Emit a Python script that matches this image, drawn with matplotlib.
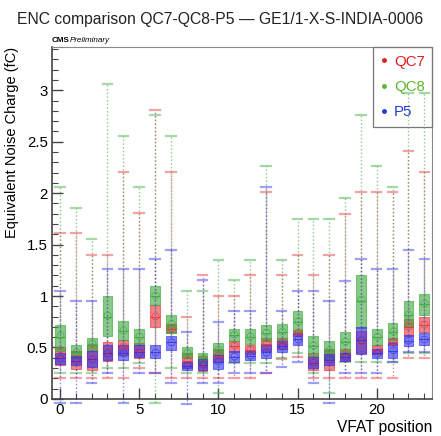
import matplotlib
matplotlib.use("Agg")
import matplotlib.pyplot as plt
from matplotlib.lines import Line2D
from matplotlib.ticker import MultipleLocator

plt.rcParams['font.family'] = ['Liberation Sans', 'DejaVu Sans']

positions = list(range(24))
series_names = ["QC7", "QC8", "P5"]

# QC7 (red)
qc7_lo  = [0.20,0.20,0.20,0.20,0.20,0.30,0.25,0.20,0.20,0.20,0.20,0.20,0.20,0.25,0.39,0.41,0.20,0.20,0.20,0.20,0.20,0.20,0.40,0.40]
qc7_q1  = [0.33,0.29,0.28,0.37,0.43,0.40,0.70,0.64,0.30,0.27,0.36,0.46,0.44,0.47,0.49,0.61,0.28,0.28,0.37,0.45,0.44,0.52,0.61,0.65]
qc7_med = [0.42,0.38,0.40,0.46,0.50,0.47,0.80,0.68,0.37,0.34,0.42,0.51,0.48,0.53,0.54,0.64,0.36,0.38,0.43,0.55,0.48,0.55,0.70,0.72]
qc7_q3  = [0.50,0.47,0.52,0.55,0.57,0.54,0.91,0.73,0.45,0.42,0.49,0.56,0.52,0.59,0.59,0.67,0.45,0.49,0.49,0.66,0.52,0.59,0.78,0.80]
qc7_hi  = [1.61,1.61,1.40,1.40,2.21,1.81,2.81,2.21,0.80,1.20,1.00,1.00,1.20,2.01,1.20,1.40,1.20,1.40,1.80,2.01,2.01,2.01,2.41,2.21]
qc7_mean= [0.43,0.39,0.41,0.47,0.51,0.48,0.81,0.69,0.38,0.35,0.43,0.52,0.49,0.54,0.55,0.65,0.37,0.39,0.44,0.56,0.49,0.56,0.71,0.73]

# QC8 (green)
qc8_lo  = [0.25,0.25,0.25,0.30,0.30,0.35,-0.04,0.30,0.25,0.25,0.06,0.35,0.35,0.35,0.40,0.45,0.25,0.06,0.36,0.36,0.36,0.36,0.45,0.45]
qc8_q1  = [0.47,0.40,0.47,0.61,0.57,0.52,0.91,0.64,0.40,0.34,0.43,0.56,0.53,0.56,0.57,0.65,0.41,0.38,0.44,0.69,0.52,0.57,0.70,0.82]
qc8_med = [0.60,0.46,0.53,0.80,0.66,0.60,1.00,0.73,0.45,0.40,0.48,0.62,0.60,0.64,0.65,0.75,0.51,0.47,0.55,0.95,0.60,0.65,0.82,0.92]
qc8_q3  = [0.72,0.52,0.59,1.00,0.76,0.68,1.10,0.82,0.50,0.45,0.54,0.68,0.68,0.72,0.73,0.85,0.61,0.56,0.65,1.20,0.68,0.74,0.95,1.02]
qc8_hi  = [2.06,1.86,1.55,3.06,2.56,2.06,2.76,2.56,1.05,1.05,1.35,1.155,1.35,2.26,1.35,1.75,1.75,1.75,1.95,2.76,2.26,2.06,2.97,2.97]
qc8_mean= [0.62,0.46,0.54,0.82,0.67,0.61,1.01,0.74,0.46,0.40,0.49,0.63,0.61,0.65,0.66,0.76,0.52,0.48,0.56,0.97,0.61,0.66,0.83,0.93]

# P5 (blue)
p5_lo   = [-0.04,-0.04,0.155,0.25,-0.04,0.25,0.25,0.155,-0.05,0.155,0.155,0.25,0.25,0.25,0.31,0.36,0.155,-0.04,0.25,0.25,0.25,0.36,0.46,0.46]
p5_q1   = [0.34,0.33,0.31,0.38,0.38,0.41,0.40,0.48,0.28,0.28,0.29,0.36,0.38,0.40,0.46,0.52,0.30,0.33,0.37,0.44,0.40,0.40,0.51,0.52]
p5_med  = [0.40,0.37,0.39,0.45,0.45,0.46,0.46,0.55,0.32,0.33,0.36,0.41,0.42,0.46,0.51,0.58,0.35,0.38,0.41,0.57,0.45,0.47,0.56,0.58]
p5_q3   = [0.45,0.42,0.47,0.52,0.52,0.52,0.52,0.61,0.36,0.39,0.43,0.47,0.47,0.52,0.56,0.64,0.41,0.44,0.45,0.70,0.49,0.54,0.62,0.64]
p5_hi   = [1.05,0.95,0.95,1.26,1.26,1.26,1.36,1.45,0.65,1.155,0.75,0.85,0.85,2.06,0.85,1.05,1.05,0.95,1.15,1.36,1.26,1.26,1.45,1.36]
p5_mean = [0.40,0.38,0.39,0.45,0.45,0.46,0.46,0.55,0.33,0.34,0.37,0.42,0.43,0.46,0.51,0.58,0.36,0.39,0.42,0.57,0.45,0.48,0.57,0.58]

series = [
    ("QC7", qc7_lo, qc7_q1, qc7_med, qc7_q3, qc7_hi, qc7_mean, "#e8313a", "#e02020"),
    ("QC8", qc8_lo, qc8_q1, qc8_med, qc8_q3, qc8_hi, qc8_mean, "#3aa83a", "#5cb531"),
    ("P5",  p5_lo,  p5_q1,  p5_med,  p5_q3,  p5_hi,  p5_mean,  "#3030e8", "#1f3fd6"),
]

fig = plt.figure(figsize=(4.41, 4.36), dpi=100)
ax = fig.add_axes([0.118, 0.085, 0.862, 0.807])

for name, lo, q1, med, q3, hi, mean, col, txtcol in series:
    stats = []
    for i in range(len(positions)):
        stats.append(dict(whislo=lo[i], q1=q1[i], med=med[i], q3=q3[i],
                          whishi=hi[i], mean=mean[i], fliers=[]))
    res = ax.bxp(stats, positions=positions, widths=0.62, capwidths=0.6,
                 patch_artist=True, showmeans=True, manage_ticks=False,
                 boxprops=dict(facecolor=col, edgecolor=col, alpha=0.6, linewidth=0.8),
                 whiskerprops=dict(color=col, linestyle=':', linewidth=1.0, alpha=0.6),
                 capprops=dict(color=col, linewidth=1.6, alpha=0.45),
                 medianprops=dict(color=col, linewidth=0.8, alpha=0.8),
                 meanprops=dict(marker='o', markerfacecolor='none', markeredgecolor=col,
                                markersize=5, markeredgewidth=0.6, alpha=0.7))
    for k in ('caps', 'whiskers'):
        for art in res[k]:
            art.set_clip_on(False)

ax.set_xlim(-0.5, 23.5)
ax.set_ylim(0, 3.42)

ax.xaxis.set_major_locator(MultipleLocator(5))
ax.xaxis.set_minor_locator(MultipleLocator(1))
ax.yaxis.set_major_locator(MultipleLocator(0.5))
ax.yaxis.set_minor_locator(MultipleLocator(0.1))
ax.set_yticks([0, 0.5, 1, 1.5, 2, 2.5, 3])
ax.set_yticklabels(["0", "0.5", "1", "1.5", "2", "2.5", "3"])
ax.tick_params(axis='both', which='major', direction='in', length=8, width=1.0,
               labelsize=10.8, color='#444444', pad=3)
ax.tick_params(axis='both', which='minor', direction='in', length=4, width=0.8, color='#444444')
ax.tick_params(top=False, right=False, which='both')

for s in ('left', 'bottom'):
    ax.spines[s].set_color('#444444')
    ax.spines[s].set_linewidth(1.2)
for s in ('top', 'right'):
    ax.spines[s].set_color('#888888')
    ax.spines[s].set_linewidth(0.8)

ax.set_ylabel("Equivalent Noise Charge (fC)", fontsize=10.5, loc='top', labelpad=6)
ax.set_xlabel("VFAT position", fontsize=11.2, loc='right', labelpad=2)

fig.text(0.5, 0.955, "ENC comparison QC7-QC8-P5 — GE1/1-X-S-INDIA-0006",
         ha='center', va='center', fontsize=11.3, color='#222222')
fig.text(0.118, 0.899, "CMS", fontsize=5.8, fontweight='bold', ha='left', va='bottom')
fig.text(0.158, 0.899, "Preliminary", fontsize=5.8, style='italic', ha='left', va='bottom')

handles = [Line2D([], [], marker='o', linestyle='none', color=s[8], markersize=2.5) for s in series]
leg = ax.legend(handles, series_names, loc='upper right', bbox_to_anchor=(1.0, 1.0),
                borderaxespad=0, fancybox=False, fontsize=10.8, handlelength=0.5,
                handletextpad=0.4, labelspacing=0.75, borderpad=0.5,
                labelcolor=[s[8] for s in series])
frame = leg.get_frame()
frame.set_facecolor('none')
frame.set_edgecolor('#777777')
frame.set_linewidth(0.9)
frame.set_alpha(None)

fig.savefig("out.png", dpi=100)
